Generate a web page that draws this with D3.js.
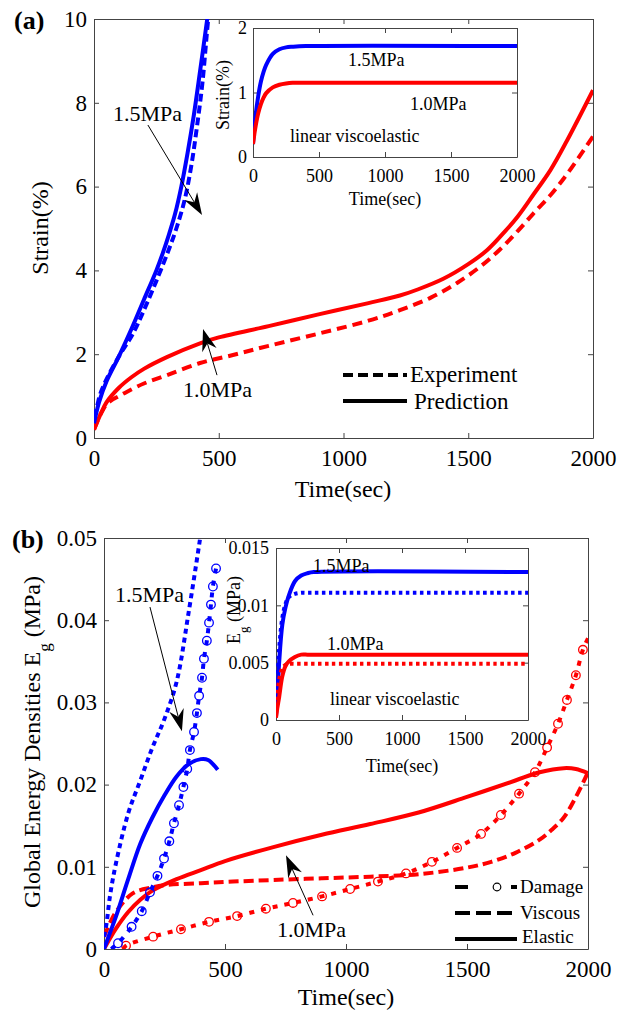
<!DOCTYPE html>
<html>
<head>
<meta charset="utf-8">
<script src="https://cdn.jsdelivr.net/npm/d3@7"></script>
<style>
  body { margin: 0; background: #fff; }
  svg { display: block; font-family: "Liberation Serif", "Times New Roman", serif; }
</style>
</head>
<body>
<svg id="fig" width="617" height="1013"></svg>
<script>
// ---------- panel (a): strain vs time ----------
const aBlueExpT  = [0, 12, 25, 50, 100, 157, 200, 250, 300, 330, 364, 390, 412, 435, 457, 470];
const aBlueExpS  = [0.5, 0.75, 1.05, 1.4, 1.95, 2.5, 3.05, 3.75, 4.5, 5.0, 5.7, 6.5, 7.4, 8.5, 9.95, 10.6];
const aBluePredT = [0, 20, 50, 100, 150, 200, 250, 275, 300, 325, 350, 375, 400, 425, 455, 470];
const aBluePredS = [0.35, 0.85, 1.35, 1.95, 2.6, 3.3, 4.0, 4.4, 4.85, 5.35, 6.0, 6.8, 7.7, 8.75, 10.05, 10.7];
const aRedExpT   = [0, 25, 50, 75, 100, 131, 200, 292, 425, 557, 700, 906, 1100, 1226, 1350, 1455, 1550, 1627, 1700, 1760, 1830, 1896, 2000];
const aRedExpS   = [0.2, 0.55, 0.8, 0.92, 1.0, 1.1, 1.3, 1.5, 1.79, 1.98, 2.2, 2.5, 2.8, 3.05, 3.35, 3.7, 4.1, 4.5, 4.95, 5.35, 5.8, 6.3, 7.2];
const aRedPredT  = [0, 25, 50, 100, 150, 200, 292, 425, 500, 700, 900, 1100, 1226, 1300, 1400, 1500, 1575, 1650, 1700, 1760, 1830, 1896, 2000];
const aRedPredS  = [0.2, 0.55, 0.85, 1.2, 1.45, 1.65, 1.93, 2.26, 2.4, 2.67, 2.95, 3.22, 3.4, 3.55, 3.8, 4.15, 4.48, 4.95, 5.3, 5.8, 6.4, 7.1, 8.3];

// inset (a): linear viscoelastic strain
const aInsT     = [0, 10, 20, 40, 60, 80, 100, 150, 200, 250, 300, 400, 2000];
const aInsBlueS = [0.2, 0.45, 0.65, 0.95, 1.17, 1.32, 1.43, 1.6, 1.67, 1.7, 1.71, 1.72, 1.72];
const aInsRedS  = [0.2, 0.35, 0.48, 0.68, 0.82, 0.92, 0.99, 1.08, 1.12, 1.14, 1.15, 1.15, 1.15];

// ---------- panel (b): global energy densities ----------
const bBlueViscT = [0, 10, 25, 50, 100, 150, 200, 250, 300, 350, 400];
const bBlueViscE = [0.0015, 0.003, 0.0065, 0.0105, 0.0165, 0.0205, 0.0245, 0.028, 0.0325, 0.041, 0.0505];
const bBlueElT   = [0, 25, 50, 100, 150, 200, 250, 300, 350, 400, 430, 470];
const bBlueElE   = [0, 0.002, 0.004, 0.0085, 0.0128, 0.016, 0.0187, 0.021, 0.0225, 0.0231, 0.023, 0.0218];
const bBlueDmgT  = [30, 58, 114, 156, 190, 221, 248, 270, 289, 310, 328, 344, 355, 372, 384, 393, 405, 413, 425, 434, 442, 450, 463];
const bBlueDmgE  = [0, 0.0007, 0.0027, 0.0046, 0.0069, 0.0089, 0.011, 0.0131, 0.0153, 0.0175, 0.0197, 0.0219,
                    0.0242, 0.0264, 0.0287, 0.0308, 0.033, 0.0353, 0.0375, 0.0397, 0.0419, 0.0441, 0.0463];
const bRedElT    = [0, 50, 100, 150, 200, 300, 400, 500, 700, 900, 1100, 1300, 1500, 1700, 1800, 1900, 1950, 2000];
const bRedElE    = [0, 0.0025, 0.0045, 0.006, 0.0071, 0.0085, 0.0096, 0.0107, 0.0124, 0.0139, 0.0152, 0.0166,
                    0.0185, 0.0205, 0.0215, 0.022, 0.0219, 0.0214];
const bRedViscT  = [0, 25, 54, 120, 200, 260, 400, 533, 700, 900, 1100, 1300, 1500, 1600, 1700, 1800, 1850, 1900, 1950, 2000];
const bRedViscE  = [0.0015, 0.0032, 0.0047, 0.0068, 0.0075, 0.0078, 0.008, 0.0082, 0.0084, 0.0086, 0.0088, 0.0091,
                    0.0099, 0.0106, 0.0117, 0.0133, 0.0145, 0.016, 0.0185, 0.0215];
const bRedDmgT   = [80, 91, 203, 318, 434, 550, 669, 781, 901, 1017, 1132, 1248, 1355, 1459, 1558, 1640, 1715, 1781,
                    1831, 1876, 1913, 1950, 1979, 2000];
const bRedDmgE   = [0, 0.0004, 0.0015, 0.0024, 0.0033, 0.004, 0.0049, 0.0056, 0.0064, 0.0073, 0.0082, 0.0092, 0.0106,
                    0.0123, 0.014, 0.0163, 0.0189, 0.0215, 0.0245, 0.0274, 0.0303, 0.0333, 0.0364, 0.0378];

// inset (b): linear viscoelastic energy
const bInsT         = [0, 10, 25, 50, 75, 100, 150, 200, 250, 300, 2000];
const bInsBlueElE   = [0.0003, 0.002, 0.005, 0.0083, 0.0098, 0.0108, 0.0121, 0.0126, 0.0128, 0.0129, 0.0129];
const bInsBlueViscE = [0.001, 0.003, 0.0062, 0.0089, 0.0101, 0.0107, 0.011, 0.0111, 0.0111, 0.0111, 0.0111];
const bInsRedElE    = [0.0002, 0.001, 0.002, 0.0038, 0.0047, 0.0051, 0.0055, 0.0057, 0.0057, 0.0057, 0.0057];
const bInsRedViscE  = [0.0005, 0.002, 0.0035, 0.0045, 0.0048, 0.0049, 0.0049, 0.0049, 0.0049, 0.0049, 0.0049];

// tick values
const timeTicks    = [0, 500, 1000, 1500, 2000];
const aStrainTicks = [0, 2, 4, 6, 8, 10];
const aInsTicks    = [0, 1, 2];
const bEnergyTicks = [0, 0.01, 0.02, 0.03, 0.04, 0.05];
const bInsTicks    = [0, 0.005, 0.01, 0.015];

const BLUE = '#0000ff', RED = '#ff0000';
const svg = d3.select('#fig');
let clipId = 0;

/**
 * Draws a MATLAB-style box: white background, ticks inward on all four sides.
 */
function drawFrame(x, y, xTicks, yTicks, fmtY, fs, padX, padY) {
  const [x0, x1] = x.range(), [y0, y1] = y.range();
  const g = svg.append('g');
  g.append('rect').attr('x', x0).attr('y', y1).attr('width', x1 - x0).attr('height', y0 - y1)
    .attr('fill', '#fff');
  const ax = [
    ['translate(0,' + y0 + ')', d3.axisBottom(x).tickValues(xTicks).tickFormat(d3.format('d')).tickPadding(padX)],
    ['translate(0,' + y1 + ')', d3.axisTop(x).tickValues(xTicks).tickFormat('')],
    ['translate(' + x0 + ',0)', d3.axisLeft(y).tickValues(yTicks).tickFormat(fmtY).tickPadding(padY)],
    ['translate(' + x1 + ',0)', d3.axisRight(y).tickValues(yTicks).tickFormat('')]
  ];
  ax.forEach(function(a) {
    const s = g.append('g').attr('transform', a[0]).call(a[1].tickSizeInner(-5).tickSizeOuter(0));
    s.select('.domain').attr('stroke', '#444');
    s.selectAll('.tick line').attr('stroke', '#444');
    s.selectAll('text').attr('fill', '#000').style('font-size', fs + 'px')
      .style('font-family', '"Liberation Serif", serif');
  });
  // clip area for series
  const id = 'clip' + (clipId++);
  svg.append('clipPath').attr('id', id).append('rect')
    .attr('x', x0).attr('y', y1).attr('width', x1 - x0).attr('height', y0 - y1);
  return svg.append('g').attr('clip-path', 'url(#' + id + ')');
}

function drawSeries(g, x, y, T, V, color, dash, width) {
  const pts = T.map(function(t, i) { return [t, V[i]]; });
  g.append('path').datum(pts)
    .attr('fill', 'none').attr('stroke', color).attr('stroke-width', width || 4)
    .attr('stroke-dasharray', dash || null)
    .attr('d', d3.line().x(function(d) { return x(d[0]); }).y(function(d) { return y(d[1]); })
      .curve(d3.curveCatmullRom.alpha(0.5)));
}

function drawCircles(g, x, y, T, V, color) {
  g.selectAll(null).data(T.map(function(t, i) { return [t, V[i]]; })).enter().append('circle')
    .attr('cx', function(d) { return x(d[0]); }).attr('cy', function(d) { return y(d[1]); })
    .attr('r', 4.3).attr('fill', 'none').attr('stroke', color).attr('stroke-width', 1.3);
}

function arrow(x1, y1, x2, y2) {
  const a = Math.atan2(y2 - y1, x2 - x1), c = Math.cos(a), s = Math.sin(a);
  const L = 22, W = 7.5, B = 15;
  svg.append('line').attr('x1', x1).attr('y1', y1).attr('x2', x2 - B * c).attr('y2', y2 - B * s)
    .attr('stroke', '#000').attr('stroke-width', 1);
  svg.append('path').attr('fill', '#000').attr('d',
    'M' + x2 + ',' + y2 +
    'L' + (x2 - L * c - W * s) + ',' + (y2 - L * s + W * c) +
    'L' + (x2 - B * c) + ',' + (y2 - B * s) +
    'L' + (x2 - L * c + W * s) + ',' + (y2 - L * s - W * c) + 'Z');
}

function label(x, y, txt, fs, anchor, weight) {
  return svg.append('text').attr('x', x).attr('y', y).attr('text-anchor', anchor || 'start')
    .style('font-size', fs + 'px').style('font-weight', weight || 'normal').text(txt);
}

// ================= panel (a) =================
const xa = d3.scaleLinear().domain([0, 2000]).range([94, 593]);
const ya = d3.scaleLinear().domain([0, 10]).range([438, 19]);
const ga = drawFrame(xa, ya, timeTicks, aStrainTicks, d3.format('d'), 23, 12, 7);
drawSeries(ga, xa, ya, aRedExpT, aRedExpS, RED, '10,6');
drawSeries(ga, xa, ya, aRedPredT, aRedPredS, RED);
drawSeries(ga, xa, ya, aBlueExpT, aBlueExpS, BLUE, '8,4');
drawSeries(ga, xa, ya, aBluePredT, aBluePredS, BLUE);

label(14, 29, '(a)', 26, 'start', 'bold');
label(343, 497, 'Time(sec)', 24, 'middle');
label(0, 0, 'Strain(%)', 24, 'middle').attr('transform', 'translate(48,228) rotate(-90)');

// annotations (a), anchored in data coordinates
label(xa(76), ya(7.57), '1.5MPa', 22);
arrow(xa(216), ya(7.47), xa(433), ya(5.32));
label(xa(357), ya(0.98), '1.0MPa', 22);
arrow(xa(493), ya(1.5), xa(437), ya(2.6));

// legend (a)
svg.append('line').attr('x1', 343).attr('x2', 407).attr('y1', 375).attr('y2', 375)
  .attr('stroke', '#000').attr('stroke-width', 4).attr('stroke-dasharray', '10,5');
svg.append('line').attr('x1', 343).attr('x2', 407).attr('y1', 401).attr('y2', 401)
  .attr('stroke', '#000').attr('stroke-width', 4);
label(410, 382, 'Experiment', 23);
label(414, 409, 'Prediction', 23);

// inset (a)
const xai = d3.scaleLinear().domain([0, 2000]).range([253, 517]);
const yai = d3.scaleLinear().domain([0, 2]).range([157, 28]);
const gai = drawFrame(xai, yai, timeTicks, aInsTicks, d3.format('d'), 18, 12, 6);
drawSeries(gai, xai, yai, aInsT, aInsBlueS, BLUE);
drawSeries(gai, xai, yai, aInsT, aInsRedS, RED);
label(348, 66, '1.5MPa', 18);
label(410, 110, '1.0MPa', 18);
label(290, 142, 'linear viscoelastic', 18);
label(385, 205, 'Time(sec)', 18, 'middle');
label(0, 0, 'Strain(%)', 18, 'middle').attr('transform', 'translate(229,95) rotate(-90)');

// ================= panel (b) =================
const xb = d3.scaleLinear().domain([0, 2000]).range([104, 588]);
const yb = d3.scaleLinear().domain([0, 0.05]).range([949, 538]);
const gb = drawFrame(xb, yb, timeTicks, bEnergyTicks, d3.format('.2~f'), 23, 12, 7);
drawSeries(gb, xb, yb, bRedDmgT, bRedDmgE, RED, '5,7');
drawCircles(gb, xb, yb, bRedDmgT.slice(1, -1), bRedDmgE.slice(1, -1), RED);
drawSeries(gb, xb, yb, bRedViscT, bRedViscE, RED, '10,5');
drawSeries(gb, xb, yb, bRedElT, bRedElE, RED);
drawSeries(gb, xb, yb, bBlueDmgT, bBlueDmgE, BLUE, '5,7');
drawCircles(gb, xb, yb, bBlueDmgT.slice(1), bBlueDmgE.slice(1), BLUE);
drawSeries(gb, xb, yb, bBlueViscT, bBlueViscE, BLUE, '5,4');
drawSeries(gb, xb, yb, bBlueElT, bBlueElE, BLUE);

label(12, 548, '(b)', 26, 'start', 'bold');
label(346, 1005, 'Time(sec)', 24, 'middle');
const yl = label(0, 0, 'Global Energy Densities E', 24, 'middle')
  .attr('transform', 'translate(40,742) rotate(-90)');
yl.append('tspan').attr('baseline-shift', 'sub').style('font-size', '17px').text('g');
yl.append('tspan').text(' (MPa)');

// annotations (b)
label(xb(45), yb(0.0422), '1.5MPa', 22);
arrow(xb(190), yb(0.0416), xb(322), yb(0.0265));
label(xb(715), yb(0.00146), '1.0MPa', 22);
arrow(xb(864), yb(0.0041), xb(752), yb(0.0114));

// legend (b)
const lg = svg.append('g');
lg.append('line').attr('x1', 455).attr('x2', 468).attr('y1', 887).attr('y2', 887)
  .attr('stroke', '#000').attr('stroke-width', 4);
lg.append('circle').attr('cx', 497).attr('cy', 887).attr('r', 3.8)
  .attr('fill', 'none').attr('stroke', '#000').attr('stroke-width', 1.2);
lg.append('line').attr('x1', 511).attr('x2', 517).attr('y1', 887).attr('y2', 887)
  .attr('stroke', '#000').attr('stroke-width', 4);
lg.append('line').attr('x1', 455).attr('x2', 518).attr('y1', 913).attr('y2', 913)
  .attr('stroke', '#000').attr('stroke-width', 4).attr('stroke-dasharray', '15,6');
lg.append('line').attr('x1', 455).attr('x2', 517).attr('y1', 939).attr('y2', 939)
  .attr('stroke', '#000').attr('stroke-width', 4);
label(520, 893, 'Damage', 19);
label(520, 919, 'Viscous', 19);
label(522, 943, 'Elastic', 19);

// inset (b)
const xbi = d3.scaleLinear().domain([0, 2000]).range([276, 528]);
const ybi = d3.scaleLinear().domain([0, 0.015]).range([720, 548]);
const gbi = drawFrame(xbi, ybi, timeTicks, bInsTicks, d3.format('.3~f'), 18, 12, 7);
drawSeries(gbi, xbi, ybi, bInsT, bInsBlueElE, BLUE);
drawSeries(gbi, xbi, ybi, bInsT, bInsBlueViscE, BLUE, '3.5,3.5');
drawSeries(gbi, xbi, ybi, bInsT, bInsRedElE, RED);
drawSeries(gbi, xbi, ybi, bInsT, bInsRedViscE, RED, '3.5,3.5');
label(313, 572, '1.5MPa', 18);
label(327, 650, '1.0MPa', 18);
label(330, 705, 'linear viscoelastic', 18);
label(402, 772, 'Time(sec)', 18, 'middle');
const yli = label(0, 0, 'E', 18, 'middle').attr('transform', 'translate(240,610) rotate(-90)');
yli.append('tspan').attr('baseline-shift', 'sub').style('font-size', '13px').text('g');
yli.append('tspan').text(' (MPa)');
</script>
</body>
</html>
